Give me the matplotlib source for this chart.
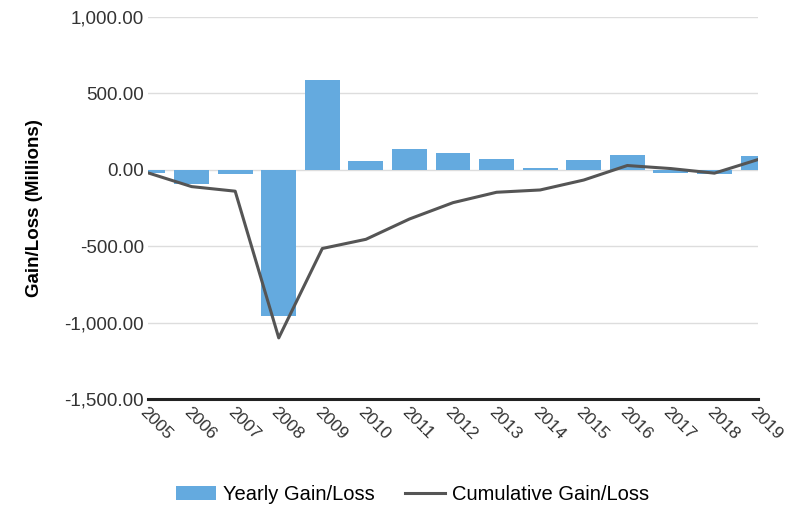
import matplotlib
matplotlib.use("Agg")
import matplotlib.pyplot as plt
from matplotlib.lines import Line2D
from matplotlib.patches import Patch
import numpy as np

plt.rcParams['font.family'] = ['Liberation Sans', 'DejaVu Sans']

years = ['2005', '2006', '2007', '2008', '2009', '2010', '2011', '2012',
         '2013', '2014', '2015', '2016', '2017', '2018', '2019']
yearly = [-20, -90, -30, -960, 585, 60, 133, 107, 68, 15, 65, 95, -20, -30, 89]
cumulative = [-20, -110, -140, -1100, -515, -455, -322, -215, -147, -132, -67, 28, 8, -22, 67]
yticks = [1000, 500, 0, -500, -1000, -1500]

bar_color = '#64aadf'
line_color = '#555555'

fig = plt.figure(figsize=(7.98, 5.07), dpi=100)
ax = fig.add_axes([0.1855, 0.213, 0.7644, 0.7535])

x = np.arange(len(years))
ax.bar(x, yearly, width=0.8, color=bar_color, zorder=2)
ax.plot(x, cumulative, color=line_color, linewidth=2.2, zorder=3)

ax.set_xlim(0, len(years) - 1)
ax.set_ylim(-1500, 1000)
ax.set_yticks(yticks)
ax.set_yticklabels([f"{v:,.2f}" for v in yticks], fontsize=13.5, color='#333333')
ax.yaxis.grid(True, color='#dddddd', linewidth=1, zorder=0)
ax.set_axisbelow(True)
ax.tick_params(axis='y', length=0, pad=3)

ax.set_xticks(x)
ax.set_xticklabels(years, rotation=-45, ha='left', va='top', rotation_mode='anchor',
                   fontsize=12.5, color='#333333')
ax.tick_params(axis='x', length=0, pad=4)

for s in ['top', 'right', 'left']:
    ax.spines[s].set_visible(False)
ax.spines['bottom'].set_color('#222222')
ax.spines['bottom'].set_linewidth(2.2)

ax.set_ylabel('Gain/Loss (Millions)', fontsize=13.5, fontweight='bold', labelpad=15)

handles = [Patch(facecolor=bar_color, edgecolor='none'),
           Line2D([0], [0], color=line_color, linewidth=2.2)]
fig.legend(handles, ['Yearly Gain/Loss', 'Cumulative Gain/Loss'],
           loc='center', bbox_to_anchor=(0.517, 0.024), ncol=2, frameon=False,
           fontsize=14.5, handlelength=2.0, handleheight=0.7, handletextpad=0.35,
           columnspacing=1.5)

fig.savefig('out.png', dpi=100)
